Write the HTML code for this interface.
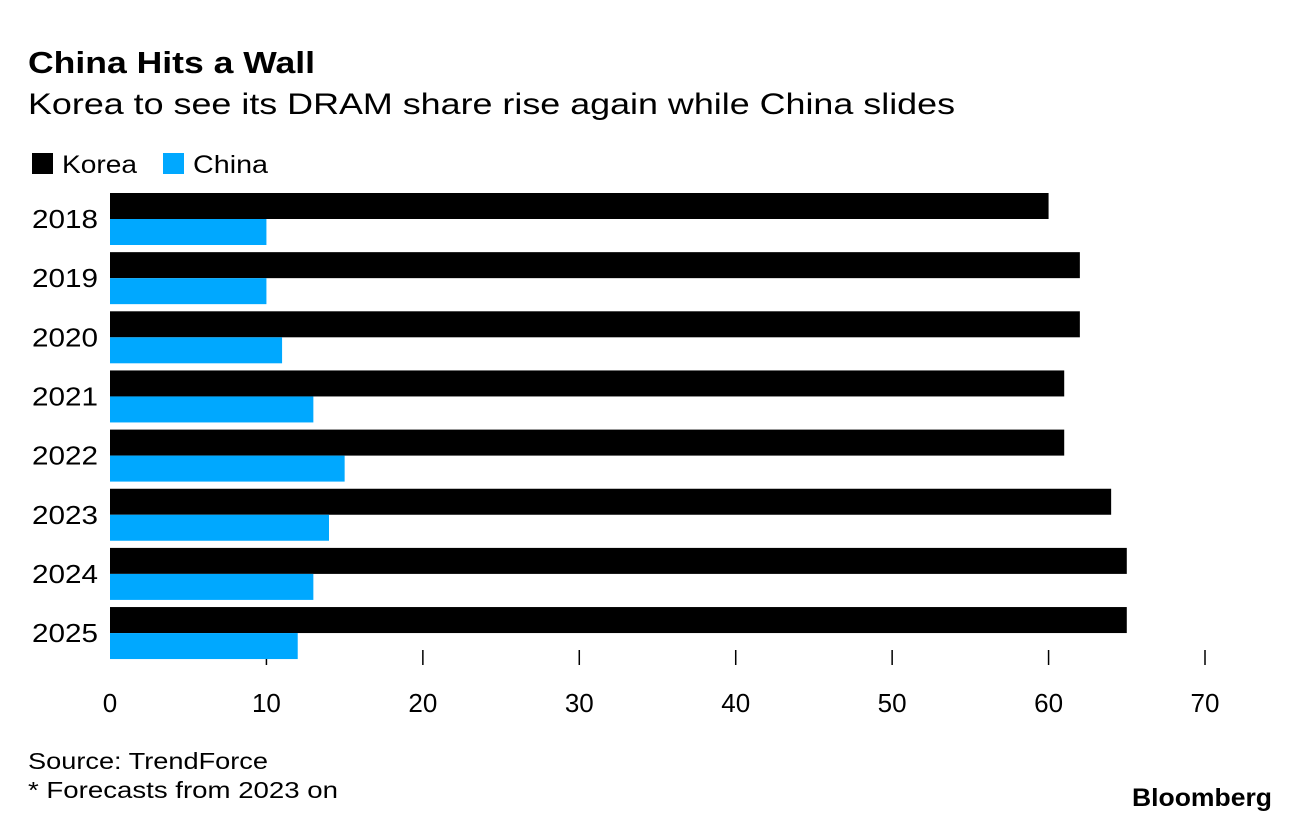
<!DOCTYPE html>
<html><head><meta charset="utf-8"><style>
body{margin:0;background:#fff;font-family:"Liberation Sans",sans-serif;}
svg text{font-family:"Liberation Sans",sans-serif;}
</style></head><body>
<svg width="1296" height="830" viewBox="0 0 1296 830">
<text x="28" y="73" font-size="31" font-weight="bold" fill="#000" textLength="287" lengthAdjust="spacingAndGlyphs">China Hits a Wall</text>
<text x="28" y="114" font-size="30" fill="#000" textLength="927" lengthAdjust="spacingAndGlyphs">Korea to see its DRAM share rise again while China slides</text>
<g>
<rect x="32" y="153" width="21" height="21" fill="#000"/>
<text x="62" y="173" font-size="25" textLength="75" lengthAdjust="spacingAndGlyphs">Korea</text>
<rect x="163" y="153" width="21" height="21" fill="#00a8ff"/>
<text x="193" y="173" font-size="25" textLength="75" lengthAdjust="spacingAndGlyphs">China</text>
</g>
<g id="plot"></g>
<text x="28" y="769" font-size="23" textLength="240" lengthAdjust="spacingAndGlyphs">Source: TrendForce</text>
<text x="28" y="798" font-size="23" textLength="310" lengthAdjust="spacingAndGlyphs">* Forecasts from 2023 on</text>
<text x="1132" y="806" font-size="25" font-weight="bold" textLength="140" lengthAdjust="spacingAndGlyphs">Bloomberg</text>
</svg>
<script>
const years=["2018","2019","2020","2021","2022","2023","2024","2025"];
const korea=[60,62,62,61,61,64,65,65];
const china=[10,10,11,13,15,14,13,12];
const ticks=[0,10,20,30,40,50,60,70];
const NS="http://www.w3.org/2000/svg";
const g=document.getElementById('plot');
const x=v=>110+v*(1205-110)/70;
const y0=193, step=59.15, bh=26;
function mk(t,a){const e=document.createElementNS(NS,t);for(const k in a)e.setAttribute(k,a[k]);g.appendChild(e);return e;}
ticks.forEach(t=>{
  if(t>0){const l=mk('line',{x1:x(t),x2:x(t),y1:650,y2:665,stroke:'#000','stroke-width':1.5});
  
  }
  const tx=mk('text',{x:x(t),y:712,'font-size':26,'text-anchor':'middle'});tx.textContent=t;
  
  
});
years.forEach((yr,i)=>{
  const top=y0+i*step;
  const a=mk('rect',{x:x(0),y:top,width:x(korea[i])-x(0),height:bh,fill:'#000'});
  
  
  const b=mk('rect',{x:x(0),y:top+bh,width:x(china[i])-x(0),height:bh,fill:'#00a8ff'});
  
  
  const t=mk('text',{x:98,y:top+bh+9,'font-size':26,'text-anchor':'end',textLength:66,lengthAdjust:'spacingAndGlyphs'});t.textContent=yr;
  
  
});
</script>
</body></html>
